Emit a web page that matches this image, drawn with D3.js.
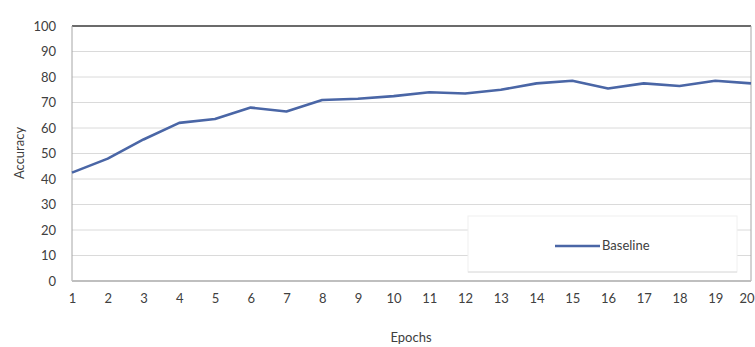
<!DOCTYPE html>
<html><head><meta charset="utf-8">
<script src="https://cdn.jsdelivr.net/npm/d3@7"></script>
<style>body{margin:0;background:#fff}svg{display:block}text{font-family:Lato,"Open Sans",sans-serif;fill:#404040}</style>
</head><body><svg id="c" width="755" height="347"></svg>
<script>
const epochs = [1,2,3,4,5,6,7,8,9,10,11,12,13,14,15,16,17,18,19,20];
const baseline = [42.5,48,55.5,62,63.5,68,66.5,71,71.5,72.5,74,73.5,75,77.5,78.5,75.5,77.5,76.5,78.5,77.5];
const yTicks = [0,10,20,30,40,50,60,70,80,90,100];
const seriesName = "Baseline";

const svg = d3.select("#c");
const L=72,R=751,T=26,B=281;
const FS="13px";
const x = d3.scalePoint().domain(epochs).range([L,R]).padding(0);
const y = d3.scaleLinear().domain([0,100]).range([B,T]);

// gridlines
svg.append("g").selectAll("line").data(yTicks.filter(d=>d>0&&d<100)).join("line")
  .attr("x1",L).attr("x2",R).attr("y1",d=>y(d)).attr("y2",d=>y(d))
  .attr("stroke","#dadada").attr("stroke-width",1);

// frame
svg.append("line").attr("x1",L).attr("x2",R).attr("y1",y(100)).attr("y2",y(100)).attr("stroke","#3a3a3a").attr("stroke-width",1.5);
svg.append("line").attr("x1",R).attr("x2",R).attr("y1",T).attr("y2",B).attr("stroke","#a6a6a6");
svg.append("line").attr("x1",L).attr("x2",L).attr("y1",T).attr("y2",B).attr("stroke","#a6a6a6");

// legend box
svg.append("rect").attr("x",468).attr("y",216).attr("width",269).attr("height",56)
  .attr("fill","#fff").attr("stroke","#f0f0f0");
svg.append("line").attr("x1",468).attr("x2",737).attr("y1",272).attr("y2",272).attr("stroke","#dcdcdc");

// bottom axis
svg.append("line").attr("x1",L).attr("x2",R).attr("y1",B).attr("y2",B).attr("stroke","#bfbfbf").attr("stroke-width",2);

// line
svg.append("path").datum(epochs.map((e,i)=>[e,baseline[i]]))
  .attr("fill","none").attr("stroke","#4a66a6").attr("stroke-width",2.6).attr("stroke-linejoin","round")
  .attr("d",d3.line().x(d=>x(d[0])).y(d=>y(d[1])));

// y axis labels
const ya = svg.append("g").attr("transform",`translate(${L},0)`).call(d3.axisLeft(y).tickValues(yTicks).tickSize(0).tickPadding(16));
ya.select(".domain").remove();
ya.selectAll("text").style("font-size",FS).attr("fill","#404040").style("font-family","Lato, 'Open Sans', sans-serif");

// x axis labels
const xa = svg.append("g").attr("transform",`translate(0,${B})`).call(d3.axisBottom(x).tickSize(0).tickPadding(13));
xa.select(".domain").remove();
xa.selectAll("text").style("font-size",FS).attr("fill","#404040").style("font-family","Lato, 'Open Sans', sans-serif");
xa.selectAll(".tick").filter(d=>d===epochs[epochs.length-1]).select("text")
  .attr("text-anchor","end").attr("dx","3px");

// titles
svg.append("text").attr("x",411).attr("y",342).attr("text-anchor","middle").style("font-size",FS).text("Epochs");
svg.append("text").attr("transform","translate(24,153) rotate(-90)").attr("text-anchor","middle").style("font-size",FS).text("Accuracy");

// legend entry
svg.append("line").attr("x1",555).attr("x2",600).attr("y1",246).attr("y2",246).attr("stroke","#4a66a6").attr("stroke-width",2.6);
svg.append("text").attr("x",602).attr("y",250).style("font-size",FS).text(seriesName);
</script></body></html>
